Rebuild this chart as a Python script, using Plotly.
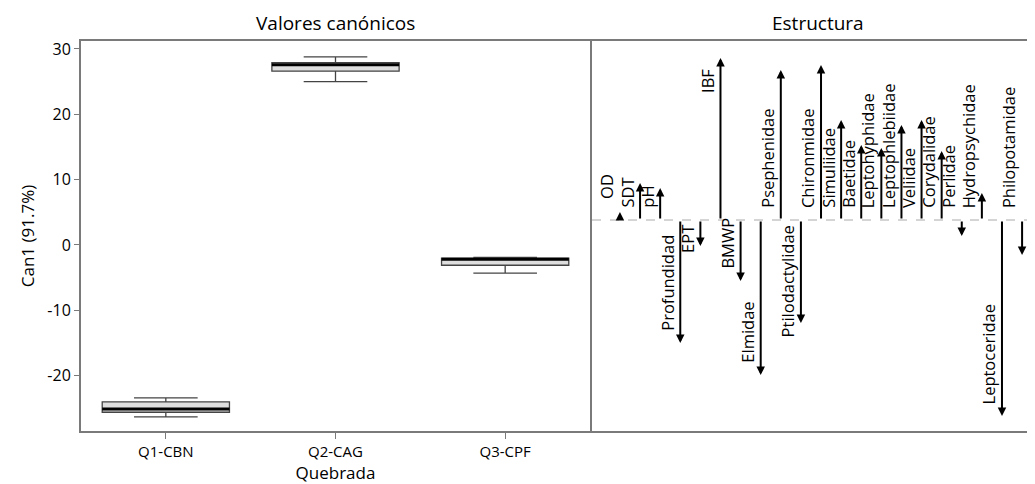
import plotly.graph_objects as go

# ---------------- data ----------------
groups = ["Q1-CBN", "Q2-CAG", "Q3-CPF"]
box_lowerfence = [-26.3, 25.0, -4.3]
box_q1 = [-25.6, 26.6, -3.1]
box_median = [-25.1, 27.6, -2.2]
box_q3 = [-24.0, 27.9, -2.0]
box_upperfence = [-23.4, 28.8, -1.9]

variables = ["OD", "SDT", "pH", "Profundidad", "EPT", "IBF", "BMWP", "Elmidae",
             "Psephenidae", "Ptilodactylidae", "Chironmidae", "Simuliidae",
             "Baetidae", "Leptohyphidae", "Leptophlebiidae", "Veliidae",
             "Corydalidae", "Perlidae", "Hydropsychidae", "Leptoceridae",
             "Philopotamidae"]
structure = [0.04, 0.185, 0.16, -0.615, -0.13, 0.81, -0.305, -0.775, 0.75,
             -0.515, 0.775, 0.5, 0.375, 0.36, 0.475, 0.5, 0.345, -0.08, 0.135,
             -0.98, -0.175]

y_ticks = [30, 20, 10, 0, -10, -20]

# ---------------- layout constants ----------------
W, H = 1035, 484
FONT = "Open Sans"
AXCOL = "#7a7a7a"
Y1_RANGE = [-28.47, 31.22]
Y2_RANGE = [-1.055, 0.895]
X2_RANGE = [-1.39, 21.04]
TOP, BOTTOM = 33, 61
plot_h = H - TOP - BOTTOM
px_per_y2 = plot_h / (Y2_RANGE[1] - Y2_RANGE[0])

# label placement rules (style, not data)
LABEL_SIZE = 16.5
CHAR_PX = 9.0
labels_at_tip = {"OD", "IBF"}
labels_above_baseline = {"Perlidae", "Philopotamidae"}

fig = go.Figure()

xs = list(range(len(groups)))
fig.add_trace(go.Box(
    x=xs, q1=box_q1, median=box_median, q3=box_q3,
    lowerfence=box_lowerfence, upperfence=box_upperfence,
    width=0.75, whiskerwidth=0.5, boxpoints=False,
    fillcolor="#dedede", line=dict(color="#444444", width=1.3),
    showlegend=False, hoverinfo="skip", xaxis="x", yaxis="y"))

for i, m in enumerate(box_median):
    fig.add_trace(go.Scatter(
        x=[i - 0.375, i + 0.375], y=[m, m], mode="lines",
        line=dict(color="black", width=3), showlegend=False,
        hoverinfo="skip", xaxis="x", yaxis="y"))

annotations = []
# arrows
for i, (name, v) in enumerate(zip(variables, structure)):
    annotations.append(dict(
        x=i, y=v, ax=i, ay=0, xref="x2", yref="y2", axref="x2", ayref="y2",
        text="", showarrow=True, arrowhead=2, arrowsize=0.85, arrowwidth=2,
        arrowcolor="black", standoff=0, startstandoff=0))

# labels
for i, (name, v) in enumerate(zip(variables, structure)):
    arrow_px = abs(v) * px_per_y2
    text_px = len(name) * CHAR_PX
    base = dict(text=name, textangle=-90, xref="x2", yref="y2", showarrow=False,
                font=dict(family=FONT, size=LABEL_SIZE, color="black"),
                borderpad=0, x=i, xanchor="right", xshift=-1)
    if name == "OD":
        a = dict(y=v, yanchor="bottom", yshift=12)
    elif name == "IBF":
        a = dict(y=v, yanchor="top", yshift=-10)
    elif v > 0 or name in labels_above_baseline:
        a = dict(y=0, yanchor="bottom", yshift=11)
    elif text_px > arrow_px:
        a = dict(y=0, yanchor="top", yshift=-4)
    else:
        a = dict(y=v, yanchor="bottom", yshift=11)
    base.update(a)
    annotations.append(base)

# panel titles
annotations.append(dict(text="Valores canónicos", xref="x domain", yref="paper",
                        x=0.5, y=1, yanchor="bottom", yshift=3, showarrow=False,
                        font=dict(family=FONT, size=19, color="black")))
annotations.append(dict(text="Estructura", xref="x2 domain", yref="paper",
                        x=0.5, y=1, yanchor="bottom", yshift=3, showarrow=False,
                        font=dict(family=FONT, size=19, color="black")))

shapes = [dict(type="line", xref="x2 domain", x0=0, x1=1, yref="y2", y0=0, y1=0,
               line=dict(color="#aaaaaa", width=1, dash="dash"), layer="below")]

fig.update_layout(
    width=W, height=H,
    margin=dict(l=0, r=0, t=TOP, b=BOTTOM),
    plot_bgcolor="white", paper_bgcolor="white",
    font=dict(family=FONT, size=15, color="black"),
    xaxis=dict(domain=[73 / W, 582 / W], range=[-0.5, 2.5],
               tickvals=xs, ticktext=groups, ticks="outside", ticklen=6,
               tickcolor=AXCOL, showline=True, mirror=True, linecolor=AXCOL,
               linewidth=2, showgrid=False, zeroline=False,
               tickfont=dict(size=15),
               title=dict(text="Quebrada", font=dict(size=17), standoff=6)),
    yaxis=dict(range=Y1_RANGE, tickvals=y_ticks,
               ticktext=[str(t) for t in y_ticks], ticks="outside", ticklen=5,
               tickcolor=AXCOL, showline=True, mirror=True, linecolor=AXCOL,
               linewidth=2, showgrid=False, zeroline=False,
               tickfont=dict(size=16),
               title=dict(text="Can1 (91.7%)", font=dict(size=17), standoff=8)),
    xaxis2=dict(domain=[584 / W, 1.0], range=X2_RANGE, anchor="y2",
                showticklabels=False, ticks="", showline=True, mirror=True,
                linecolor=AXCOL, linewidth=2, showgrid=False, zeroline=False),
    yaxis2=dict(range=Y2_RANGE, anchor="x2", showticklabels=False, ticks="",
                showline=True, mirror=False, linecolor=AXCOL, linewidth=2,
                showgrid=False, zeroline=False),
    annotations=annotations,
    shapes=shapes,
)

fig.write_html("out.html")
